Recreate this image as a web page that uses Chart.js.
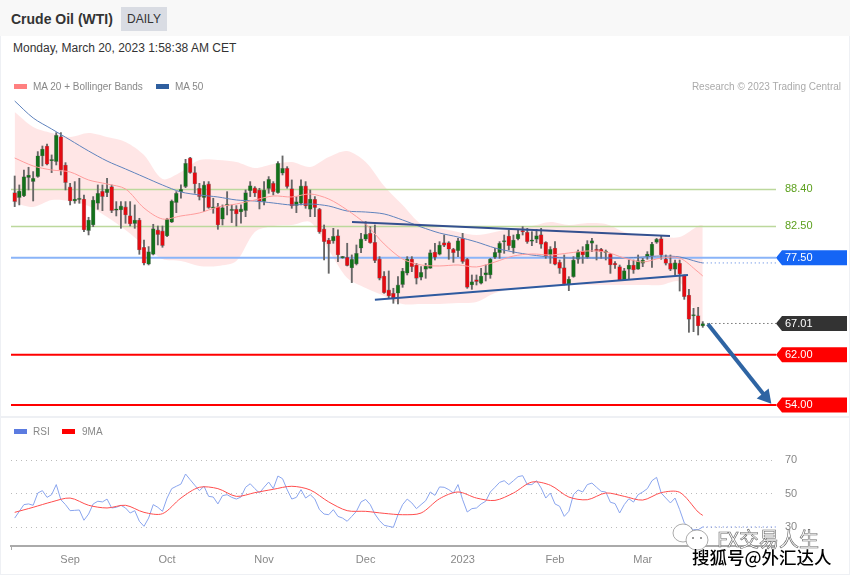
<!DOCTYPE html>
<html>
<head>
<meta charset="utf-8">
<title>Crude Oil (WTI)</title>
<script src="https://cdn.jsdelivr.net/npm/chart.js@4"></script>
<style>
    html, body { margin: 0; padding: 0; background: #fff; }
    body { font-family: "Liberation Sans", Arial, sans-serif; }
    #page { position: relative; width: 850px; height: 576px; overflow: hidden; }
    #frame { position: absolute; left: 0; top: 0; width: 848px; height: 573px; border: 1px solid #eef0f4; }
    #header { position: absolute; left: 0; top: 0; width: 850px; height: 36px; background: #f8f8f8; }
    #title { position: absolute; left: 11px; top: 10px; font-size: 14px; line-height: 18px; font-weight: bold; color: #333; }
    #badge { position: absolute; left: 121px; top: 7px; width: 46px; height: 24px; line-height: 24px; text-align: center; background: #d9dce3; font-size: 12px; color: #333; }
    #date { position: absolute; left: 13px; top: 41px; font-size: 12px; line-height: 15px; color: #333; }
    .note { position: absolute; font-size: 10px; line-height: 12px; color: #888; }
    .swatch { position: absolute; width: 13px; height: 5px; }
    #sep { position: absolute; left: 0; top: 416px; width: 850px; height: 2px; background: #eef0f4; }
    canvas { position: absolute; left: 0; }
    .mark { position: absolute; font-family: "Noto Sans CJK SC", sans-serif; white-space: nowrap; }
    #mark1 { left: 717px; top: 526px; font-size: 20px; line-height: 26px; color: #fff; -webkit-text-stroke: 0.6px #666; }
    #mark2 { left: 692px; top: 545px; font-size: 17.5px; line-height: 24px; font-weight: 500; color: #000; text-shadow: 0 0 2px #fff, 0 0 2px #fff; }
    #bubbles { position: absolute; left: 670px; top: 520px; }
</style>
</head>
<body>
<div id="page">
    <div id="frame"></div>
    <div id="header"></div>
    <div id="title">Crude Oil (WTI)</div>
    <div id="badge">DAILY</div>
    <div id="date">Monday, March 20, 2023 1:58:38 AM CET</div>
    <div id="sep"></div>

    <canvas id="priceChart" width="850" height="346" style="top:70px"></canvas>
    <canvas id="rsiChart" width="850" height="142" style="top:430px"></canvas>

    <div class="swatch" style="left:14px;top:84px;background:#ff8080"></div>
    <div class="note" style="left:33px;top:81px">MA 20 + Bollinger Bands</div>
    <div class="swatch" style="left:156px;top:84px;background:#2f5f9f"></div>
    <div class="note" style="left:175px;top:81px">MA 50</div>
    <div class="note" style="right:9px;top:81px;color:#aaa">Research © 2023 Trading Central</div>
    <div class="swatch" style="left:14px;top:429px;background:#5b7be0"></div>
    <div class="note" style="left:33px;top:426px">RSI</div>
    <div class="swatch" style="left:62px;top:429px;background:#f00"></div>
    <div class="note" style="left:82px;top:426px">9MA</div>

    <svg id="bubbles" width="42" height="34">
        <ellipse cx="13" cy="13" rx="10" ry="9" fill="#fff" stroke="#888" stroke-width="0.7"/>
        <ellipse cx="27" cy="20" rx="11" ry="10" fill="#fff" stroke="#888" stroke-width="0.7"/>
        <circle cx="23" cy="18" r="1" fill="#777"/>
        <circle cx="31" cy="18" r="1" fill="#777"/>
    </svg>
    <div class="mark" id="mark1">FX交易人生</div>
    <div class="mark" id="mark2">搜狐号@外汇达人</div>
</div>

<script>
// Daily candles
const highs = [
    90.55, 89.12, 91.51, 91.94, 91.25, 94.44, 95.34, 95.66, 93.91, 97.47,
    97.47, 92.68, 89.38, 89.65, 90.18, 87.52, 83.96, 87.26, 89.12, 89.12,
    90.18, 89.12, 86.46, 86.46, 86.46, 86.46, 85.93, 83.80, 80.34, 79.28,
    82.84, 82.57, 82.57, 83.80, 86.72, 88.05, 89.12, 93.21, 93.53, 92.04,
    89.38, 89.65, 89.65, 87.00, 86.19, 85.93, 88.05, 85.93, 85.82, 85.93,
    88.32, 89.65, 88.85, 88.59, 89.65, 90.45, 89.65, 92.84, 93.75, 92.04,
    89.92, 87.26, 89.92, 89.65, 88.32, 87.26, 85.39, 82.73, 80.61, 82.20,
    81.94, 77.73, 79.81, 77.95, 79.54, 81.40, 83.27, 82.47, 82.73, 77.68,
    75.29, 75.39, 72.63, 74.49, 75.81, 77.68, 77.68, 76.61, 76.08, 76.61,
    78.74, 79.80, 80.07, 81.13, 80.07, 79.01, 80.60, 81.40, 77.41, 74.75,
    74.75, 75.81, 76.35, 77.41, 79.01, 80.07, 81.13, 81.93, 81.13, 81.93,
    82.46, 82.20, 81.67, 82.04, 82.20, 80.07, 79.27, 80.07, 77.14, 77.94,
    74.48, 77.68, 78.74, 79.27, 80.23, 80.60, 79.53, 79.00, 78.74, 78.20,
    76.87, 76.34, 75.81, 77.14, 77.14, 77.94, 77.41, 78.47, 79.96, 80.60,
    80.97, 77.94, 77.94, 77.14, 77.14, 74.75, 72.46, 69.43, 69.59, 67.30
];
const opens = [
    87.89, 87.10, 87.36, 90.29, 89.65, 90.45, 93.75, 95.34, 92.95, 92.84,
    96.83, 92.31, 88.80, 86.56, 86.78, 86.88, 81.83, 82.73, 86.19, 88.11,
    87.89, 88.85, 85.07, 85.13, 85.61, 84.22, 82.95, 83.53, 79.17, 76.46,
    78.05, 81.94, 81.78, 80.98, 83.16, 86.30, 88.00, 88.85, 93.43, 91.09,
    88.59, 87.10, 89.28, 85.39, 85.66, 83.64, 85.82, 85.02, 85.23, 84.81,
    85.02, 88.21, 88.64, 88.32, 86.46, 88.53, 89.38, 87.89, 90.98, 91.78,
    88.53, 85.82, 86.19, 88.96, 85.23, 86.83, 85.23, 82.10, 80.34, 80.18,
    81.03, 77.47, 77.57, 75.87, 76.51, 79.01, 80.45, 81.40, 79.97, 77.31,
    74.59, 72.36, 71.83, 71.83, 73.21, 75.02, 77.30, 76.35, 74.38, 75.65,
    75.81, 78.42, 78.05, 79.91, 79.91, 78.85, 78.63, 80.60, 77.25, 73.15,
    74.01, 73.42, 74.75, 74.75, 77.57, 78.31, 80.02, 80.97, 79.06, 80.50,
    81.77, 81.56, 80.12, 80.44, 81.19, 79.96, 77.94, 79.06, 76.77, 75.92,
    73.15, 74.48, 77.25, 78.58, 77.57, 79.80, 78.84, 78.84, 78.31, 78.10,
    76.61, 76.08, 73.95, 75.65, 76.34, 75.65, 76.61, 77.67, 77.83, 79.96,
    80.54, 77.30, 76.61, 75.65, 76.61, 74.64, 71.55, 68.20, 68.26, 66.61
];
const closes = [
    86.46, 88.16, 90.45, 90.71, 90.18, 93.77, 94.86, 92.42, 93.11, 97.04,
    91.51, 89.49, 86.56, 86.88, 86.88, 81.94, 83.53, 86.72, 87.79, 87.26,
    88.48, 85.02, 85.23, 85.77, 84.33, 82.89, 83.53, 78.74, 76.62, 78.48,
    82.15, 81.19, 79.44, 83.64, 86.56, 87.79, 88.43, 92.58, 91.09, 89.28,
    87.26, 89.12, 85.50, 85.55, 82.73, 85.50, 86.03, 85.13, 84.49, 85.29,
    87.89, 89.01, 87.79, 86.46, 88.32, 90.02, 88.05, 92.58, 91.78, 88.85,
    85.77, 86.46, 88.96, 85.77, 86.88, 85.50, 81.62, 80.07, 79.70, 80.92,
    77.95, 77.68, 76.24, 77.25, 78.21, 80.50, 81.24, 79.91, 77.04, 74.22,
    71.93, 71.40, 70.98, 73.16, 75.39, 77.30, 76.08, 74.22, 75.18, 76.19,
    78.31, 77.57, 79.54, 79.48, 78.85, 78.31, 80.23, 76.88, 72.78, 73.69,
    73.69, 74.59, 75.12, 77.30, 78.37, 79.80, 80.18, 79.43, 80.34, 81.29,
    81.61, 80.07, 80.28, 81.03, 79.64, 77.78, 78.85, 76.45, 75.81, 73.31,
    74.11, 77.14, 78.47, 77.94, 79.69, 80.23, 78.63, 78.47, 78.47, 76.34,
    76.34, 73.84, 75.44, 76.34, 75.54, 77.03, 77.14, 78.10, 79.69, 80.44,
    77.94, 76.61, 75.65, 76.71, 74.91, 71.29, 67.67, 68.36, 66.61, 67.01
];
const lows = [
    85.66, 85.93, 87.26, 88.32, 86.56, 90.34, 92.15, 92.31, 91.09, 92.31,
    90.71, 88.32, 85.93, 86.19, 86.19, 81.67, 81.14, 82.47, 85.23, 85.02,
    87.26, 84.70, 84.17, 82.20, 83.00, 82.57, 82.20, 78.05, 76.35, 76.35,
    77.95, 79.54, 79.17, 80.87, 83.11, 84.70, 86.99, 88.69, 90.98, 87.79,
    86.72, 84.86, 85.39, 84.60, 82.04, 82.73, 84.33, 83.11, 82.57, 83.00,
    84.06, 87.26, 87.26, 85.29, 85.93, 87.79, 87.52, 87.79, 90.71, 88.59,
    85.39, 84.70, 85.93, 85.39, 84.06, 84.06, 81.40, 77.15, 75.02, 79.81,
    76.88, 77.41, 76.19, 73.53, 76.35, 78.32, 80.23, 79.81, 76.72, 73.96,
    71.82, 71.10, 70.23, 70.12, 72.78, 74.75, 75.28, 73.31, 73.95, 74.22,
    75.81, 77.14, 77.94, 79.27, 77.25, 76.77, 77.68, 76.61, 72.62, 72.46,
    73.15, 73.31, 73.79, 74.22, 77.41, 77.41, 78.21, 78.74, 78.21, 80.34,
    81.13, 79.80, 79.43, 79.91, 79.01, 77.41, 76.61, 76.35, 75.00, 73.15,
    72.25, 74.38, 76.61, 76.61, 77.41, 78.47, 77.14, 77.41, 77.14, 75.01,
    75.81, 73.84, 73.95, 74.05, 75.01, 75.65, 76.08, 77.25, 75.97, 79.80,
    77.25, 76.34, 75.44, 74.75, 72.19, 70.86, 65.60, 65.70, 65.17, 66.39
];

// Overlay readings, taken every fourth candle plus the last one
const overlayDays = [
    0, 4, 8, 12, 16, 20, 24, 28, 32, 36, 40, 44, 48, 52, 56, 60, 64, 68, 72, 76,
    80, 84, 88, 92, 96, 100, 104, 108, 112, 116, 120, 124, 128, 132, 136, 140, 144, 148, 149
];
const ma50 = [
    102.52, 99.81, 98.05, 96.30, 94.54, 92.94, 91.67, 90.39, 89.11, 88.00,
    87.52, 87.20, 86.72, 86.56, 86.24, 85.92, 86.08, 85.76, 84.96, 84.80,
    84.49, 83.53, 82.41, 81.45, 80.81, 80.02, 79.06, 78.42, 77.94, 77.62,
    77.46, 77.46, 77.46, 77.46, 77.62, 77.78, 77.62, 76.82, 76.67
];
const ma20 = [
    93.42, 92.15, 91.51, 91.19, 89.91, 89.27, 88.48, 85.44, 83.69, 84.17,
    84.65, 85.60, 86.08, 86.72, 87.36, 87.20, 87.68, 86.88, 85.12, 82.89,
    79.70, 77.30, 76.35, 76.19, 76.35, 76.03, 76.82, 77.78, 78.10, 77.94,
    78.26, 78.58, 78.42, 77.46, 76.82, 77.46, 77.46, 75.23, 74.59
];
const bandUpper = [
    100.76, 98.37, 97.41, 96.78, 97.41, 96.78, 95.98, 93.90, 90.07, 91.19,
    93.10, 93.10, 92.78, 91.83, 92.47, 92.78, 91.99, 93.58, 94.54, 92.78,
    88.96, 85.92, 82.89, 82.25, 81.61, 81.13, 81.61, 82.25, 82.57, 83.21,
    82.73, 83.05, 82.89, 81.61, 80.97, 80.81, 80.81, 82.57, 82.73
];
const bandLower = [
    86.24, 85.60, 86.72, 86.56, 85.76, 84.01, 81.93, 79.54, 77.30, 76.98,
    76.19, 76.19, 76.98, 81.61, 82.57, 82.73, 83.21, 78.74, 74.27, 72.68,
    71.40, 70.12, 70.12, 70.12, 70.28, 70.44, 71.88, 72.52, 72.68, 72.83,
    73.31, 73.15, 73.15, 73.15, 73.15, 73.15, 73.63, 67.57, 66.77
];

// RSI, one reading per candle
const rsi = [
    35.5, 39.5, 43.5, 43.9, 43.1, 50.4, 51.8, 47.8, 49.4, 55.4,
    46.4, 43.5, 39.9, 40.1, 40.3, 34.2, 37.9, 43.9, 45.5, 45.1,
    46.8, 41.5, 41.9, 43.1, 41.5, 38.5, 39.9, 33.6, 30.6, 35.5,
    43.5, 41.9, 39.5, 47.4, 53.0, 54.4, 55.7, 61.7, 58.3, 55.0,
    51.8, 54.4, 48.4, 48.0, 43.9, 48.8, 49.4, 47.8, 46.8, 48.0,
    53.8, 55.9, 53.0, 50.4, 53.8, 56.9, 53.0, 60.5, 58.9, 52.4,
    46.8, 47.8, 52.4, 47.4, 49.4, 46.8, 40.5, 37.9, 37.5, 40.5,
    36.5, 35.5, 33.6, 36.5, 39.5, 45.1, 46.6, 43.5, 37.9, 34.0,
    31.2, 30.6, 30.0, 37.5, 43.5, 46.8, 44.5, 41.1, 43.5, 45.8,
    51.0, 49.0, 54.0, 53.8, 52.4, 50.4, 55.4, 46.4, 39.1, 41.1,
    41.5, 43.9, 45.5, 51.0, 53.8, 56.7, 57.7, 55.4, 57.7, 60.1,
    60.7, 55.4, 55.4, 57.7, 53.4, 47.4, 50.4, 43.9, 42.5, 36.5,
    39.5, 49.4, 52.2, 51.0, 55.4, 56.3, 53.8, 51.4, 51.0, 44.9,
    44.1, 38.5, 43.5, 47.0, 45.0, 49.4, 51.0, 53.0, 57.7, 59.7,
    50.4, 47.4, 44.5, 47.4, 40.5, 32.6, 30.0, 28.6, 28.6, 30.2
];
const ma9 = [
    38.9, 41.9, 45.1, 47.4, 43.1, 41.5, 43.1, 38.9, 38.1, 47.4,
    53.8, 53.0, 48.4, 50.6, 52.6, 54.4, 52.2, 45.1, 39.9, 39.5,
    38.3, 37.5, 38.5, 47.0, 51.0, 47.4, 46.0, 50.4, 56.9, 55.0,
    48.0, 46.4, 50.4, 48.4, 46.2, 50.6, 50.8, 39.1, 37.1
];

// Price levels and axis labels
const greenLevels = [88.40, 82.50];
const lastPrice = 67.01;
const maLevel = 77.50;
const redLevels = [62.00, 54.00];
const priceTicks = [88.40, 82.50, 77.50, 67.01, 62.00, 54.00];
const rsiTicks = [70, 50, 30];
const monthDays = [12, 33, 54, 76, 97, 117, 136];
const monthLabels = ['Sep', 'Oct', 'Nov', 'Dec', '2023', 'Feb', 'Mar'];

// Hand drawn trend lines and the target arrow, as [candle, price]
const upperTrend = [[73.05, 83.21], [141.9, 80.97]];
const lowerTrend = [[78.0, 70.80], [145.8, 74.75]];
const targetArrow = [[150.1, 66.93], [162.6, 55.3]];

const xMin = -0.8;
const xMax = 164.86;
const candleDays = closes.map((c, i) => i);

const toPoints = pairs => pairs.map(p => ({ x: p[0], y: p[1] }));
const overlayPoints = values => values.map((v, i) => ({ x: overlayDays[i], y: v }));

function flatLine(value, color, width, dash, from) {
    return {
        type: 'line',
        data: [{ x: from === undefined ? xMin : from, y: value }, { x: xMax, y: value }],
        borderColor: color,
        borderWidth: width,
        borderDash: dash || [],
        pointRadius: 0,
        order: 9
    };
}

function overlayLine(values, color, width) {
    return {
        type: 'line',
        data: overlayPoints(values),
        borderColor: color,
        borderWidth: width,
        pointRadius: 0,
        tension: 0.3,
        order: 3
    };
}

function trendLine(pairs, color) {
    return {
        type: 'line',
        data: toPoints(pairs),
        borderColor: color,
        borderWidth: 2,
        pointRadius: 0,
        order: 1
    };
}

// Fixed axis width, and no extra room for the tick labels
function fitRightAxis(scale) {
    scale.width = 71;
    scale.paddingTop = 0;
    scale.paddingBottom = 0;
}

const UP = '#13701a';
const DOWN = '#e30b12';

const tagColors = { 77.5: '#1565f5', 67.01: '#333333', 62: '#ff0000', 54: '#ff0000' };

// Arrow shaped tags behind the price labels
const priceTags = {
    id: 'priceTags',
    beforeDraw(chart) {
        const { ctx } = chart;
        const y = chart.scales.y;
        priceTicks.forEach(v => {
            const color = tagColors[v];
            if (!color) return;
            const py = y.getPixelForValue(v);
            ctx.save();
            ctx.fillStyle = color;
            ctx.beginPath();
            ctx.moveTo(776, py);
            ctx.lineTo(782, py - 7.5);
            ctx.lineTo(847, py - 7.5);
            ctx.lineTo(847, py + 7.5);
            ctx.lineTo(782, py + 7.5);
            ctx.closePath();
            ctx.fill();
            ctx.restore();
        });
    }
};

const sharedFont = { family: '"Liberation Sans", Arial, sans-serif', size: 11 };

// Price panel
new Chart(document.getElementById('priceChart').getContext('2d'), {
    data: {
        datasets: [
            {
                type: 'line',
                data: overlayPoints(bandUpper),
                borderWidth: 0,
                borderColor: 'transparent',
                backgroundColor: 'rgba(255, 60, 60, 0.13)',
                pointRadius: 0,
                tension: 0.3,
                fill: '+1',
                order: 10
            },
            {
                type: 'line',
                data: overlayPoints(bandLower),
                borderWidth: 0,
                borderColor: 'transparent',
                pointRadius: 0,
                tension: 0.3,
                fill: false,
                order: 10
            },
            ...greenLevels.map(v => flatLine(v, '#bcd89c', 1.5)),
            flatLine(maLevel, '#8ab4f8', 2),
            ...redLevels.map(v => flatLine(v, '#ff0000', 2)),
            flatLine(ma50[ma50.length - 1], '#4f7fe0', 1, [1, 3], 149),
            flatLine(lastPrice, '#333', 1, [1, 3], 150),
            overlayLine(ma20, '#ff9c9c', 1),
            overlayLine(ma50, '#5f83bd', 1),
            {
                type: 'bar',
                data: candleDays.map(i => ({ x: i, y: [lows[i], highs[i]] })),
                backgroundColor: '#666',
                barThickness: 1.2,
                grouped: false,
                order: 5
            },
            {
                type: 'bar',
                data: candleDays.map(i => ({ x: i, y: [opens[i], closes[i]] })),
                backgroundColor: candleDays.map(i => closes[i] >= opens[i] ? UP : DOWN),
                borderColor: 'rgba(70, 70, 70, 0.45)',
                borderWidth: 0.6,
                borderSkipped: false,
                barThickness: 4,
                minBarLength: 1.5,
                grouped: false,
                order: 4
            },
            trendLine(upperTrend, '#34508f'),
            trendLine(lowerTrend, '#2f5a9f'),
            {
                type: 'line',
                data: toPoints(targetArrow),
                borderColor: '#2e64a3',
                borderWidth: 4,
                pointRadius: [0, 9],
                pointStyle: 'triangle',
                pointRotation: 140,
                pointBackgroundColor: '#2e64a3',
                pointBorderWidth: 0,
                clip: false,
                order: 0
            }
        ]
    },
    options: {
        responsive: false,
        animation: false,
        events: [],
        layout: { autoPadding: false, padding: { left: 11, right: 3, top: 10, bottom: 6 } },
        plugins: { legend: { display: false }, tooltip: { enabled: false } },
        scales: {
            x: { type: 'linear', display: false, offset: false, min: xMin, max: xMax },
            y: {
                position: 'right',
                min: 53.2,
                max: 105.87,
                afterFit: fitRightAxis,
                afterBuildTicks(scale) { scale.ticks = priceTicks.map(v => ({ value: v })); },
                grid: { display: false, drawTicks: false },
                border: { display: false },
                ticks: {
                    autoSkip: false,
                    padding: 9,
                    font: sharedFont,
                    callback: v => v.toFixed(2),
                    color: ctx => greenLevels.includes(ctx.tick.value) ? '#5da01e' : '#fff'
                }
            }
        }
    },
    plugins: [priceTags]
});

// RSI panel
new Chart(document.getElementById('rsiChart').getContext('2d'), {
    data: {
        datasets: [
            {
                type: 'line',
                data: candleDays.map(i => ({ x: i, y: rsi[i] })),
                borderColor: '#8aa5ee',
                borderWidth: 1,
                pointRadius: 0,
                order: 2
            },
            {
                type: 'line',
                data: overlayPoints(ma9),
                borderColor: '#ff4d4d',
                borderWidth: 1,
                pointRadius: 0,
                tension: 0.3,
                order: 1
            },
            flatLine(rsi[rsi.length - 1], '#5b7be0', 1, [1, 3], 149)
        ]
    },
    options: {
        responsive: false,
        animation: false,
        events: [],
        layout: { autoPadding: false, padding: { left: 11, right: 3, top: 10, bottom: 0 } },
        plugins: { legend: { display: false }, tooltip: { enabled: false } },
        scales: {
            x: {
                type: 'linear',
                min: xMin,
                max: xMax,
                afterFit(scale) { scale.height = 26; },
                afterBuildTicks(scale) {
                    scale.ticks = [{ value: xMin }, ...monthDays.map(d => ({ value: d }))];
                },
                border: { color: '#aaa', width: 2 },
                grid: {
                    drawOnChartArea: false,
                    tickLength: 4,
                    tickColor: ctx => ctx.tick && ctx.tick.value === xMin ? '#aaa' : 'transparent'
                },
                ticks: {
                    autoSkip: false,
                    maxRotation: 0,
                    padding: 3,
                    color: '#888',
                    font: sharedFont,
                    callback: v => {
                        const pos = monthDays.indexOf(v);
                        return pos < 0 ? '' : monthLabels[pos];
                    }
                }
            },
            y: {
                position: 'right',
                min: 18.9,
                max: 81.9,
                afterFit: fitRightAxis,
                afterBuildTicks(scale) { scale.ticks = rsiTicks.map(v => ({ value: v })); },
                grid: { color: '#bbb', drawTicks: false },
                border: { display: false, dash: [1, 4] },
                ticks: { padding: 9, color: '#888', font: sharedFont }
            }
        }
    }
});
</script>
</body>
</html>
